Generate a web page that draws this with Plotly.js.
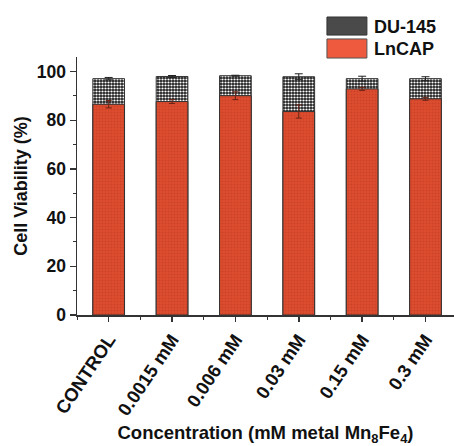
<!DOCTYPE html>
<html>
<head>
<meta charset="utf-8">
<script src="https://cdn.plot.ly/plotly-3.0.1.min.js"></script>
<style>html,body{margin:0;padding:0;background:#fff;}#chart{width:454px;height:446px;}</style>
</head>
<body>
<div id="chart"></div>
<script>
const categories = ["CONTROL", "0.0015 mM", "0.006 mM", "0.03 mM", "0.15 mM", "0.3 mM"];
const seriesNames = ["DU-145", "LnCAP"];
const du145 = [97.1, 98.0, 98.3, 97.9, 97.1, 97.1];
const du145Err = [0.5, 0.4, 0.2, 1.2, 1.0, 0.8];
const lncap = [86.6, 87.7, 90.1, 83.6, 92.9, 88.8];
const lncapErr = [1.5, 0.8, 1.6, 2.7, 0.6, 0.6];
const yTicks = [0, 20, 40, 60, 80, 100];

const idx = categories.map((_, i) => i);
const FONT = "Liberation Sans, Arial, sans-serif";
const DU_PATTERN = { shape: ".", fgcolor: "#ffffff", bgcolor: "#1e1e1e", size: 3, solidity: 0.42, fillmode: "replace" };

const traces = [
  {
    type: "bar", name: seriesNames[0], x: idx, y: du145, width: 0.5,
    marker: { color: "#2a2a2a", line: { color: "#333333", width: 1 }, pattern: DU_PATTERN },
    error_y: { type: "data", array: du145Err, visible: true, color: "#222", thickness: 1, width: 4 },
    opacity: 1
  },
  {
    type: "bar", name: seriesNames[1], x: idx, y: lncap, width: 0.5,
    marker: { color: "#d9482b", line: { color: "#333333", width: 1 },
      pattern: { shape: ".", fgcolor: "#b83a22", bgcolor: "#dd4c2e", size: 3, solidity: 0.3, fillmode: "overlay" } },
    error_y: { type: "data", array: lncapErr, visible: true, color: "#6a2416", thickness: 1, width: 3 },
    opacity: 1
  }
];

// legend drawn as swatch shapes + text annotations (paper coords)
const swatchX = [0.663, 0.769];
const layout = {
  width: 454, height: 446,
  margin: { l: 77, r: 0, t: 57, b: 131 },
  paper_bgcolor: "#ffffff", plot_bgcolor: "#ffffff",
  barmode: "overlay",
  font: { family: FONT, color: "#111", size: 17, weight: "bold" },
  showlegend: false,
  shapes: [
    { type: "rect", xref: "paper", yref: "paper", x0: swatchX[0], x1: swatchX[1], y0: 1.085, y1: 1.155,
      fillcolor: "#4a4a4a", line: { color: "#333", width: 1 }, layer: "above" },
    { type: "rect", xref: "paper", yref: "paper", x0: swatchX[0], x1: swatchX[1], y0: 0.996, y1: 1.070,
      fillcolor: "#ee5a3e", line: { color: "#555", width: 1 }, layer: "above" }
  ],
  annotations: [
    { xref: "paper", yref: "paper", x: 0.7825, y: 1.118, xanchor: "left", yanchor: "middle", showarrow: false,
      text: seriesNames[0], font: { family: FONT, size: 18, weight: "bold", color: "#111" } },
    { xref: "paper", yref: "paper", x: 0.7825, y: 1.030, xanchor: "left", yanchor: "middle", showarrow: false,
      text: seriesNames[1], font: { family: FONT, size: 18, weight: "bold", color: "#111" } }
  ],
  xaxis: {
    range: [-0.5, 5.45],
    tickmode: "array", tickvals: idx, ticktext: categories,
    tickangle: -56,
    tickfont: { family: FONT, size: 18.5, weight: "bold", color: "#111" },
    showline: true, linecolor: "#333", linewidth: 1.5, mirror: false,
    ticks: "outside", ticklen: 5, tickcolor: "#333", tickwidth: 1.5,
    minor: { tickmode: "linear", tick0: 0.5, dtick: 1, ticks: "outside", ticklen: 3, tickcolor: "#333", tickwidth: 1 },
    showgrid: false, zeroline: false, fixedrange: true,
    title: { text: "Concentration (mM metal Mn<sub>8</sub>Fe<sub>4</sub>)", font: { family: FONT, size: 18.5, weight: "bold", color: "#111" }, standoff: 14 }
  },
  yaxis: {
    range: [0, 106],
    tickmode: "array", tickvals: yTicks,
    tickfont: { family: FONT, size: 17.5, weight: "bold", color: "#111" },
    showline: true, linecolor: "#333", linewidth: 1.5,
    ticks: "outside", ticklen: 6, tickcolor: "#333", tickwidth: 1.5,
    minor: { tickmode: "linear", tick0: 0, dtick: 10, ticks: "outside", ticklen: 3, tickcolor: "#333", tickwidth: 1 },
    showgrid: false, zeroline: false, fixedrange: true,
    title: { text: "Cell Viability (%)", font: { family: FONT, size: 18, weight: "bold", color: "#111" }, standoff: 4 }
  }
};

Plotly.newPlot("chart", traces, layout, { displayModeBar: false, staticPlot: true });
</script>
</body>
</html>
